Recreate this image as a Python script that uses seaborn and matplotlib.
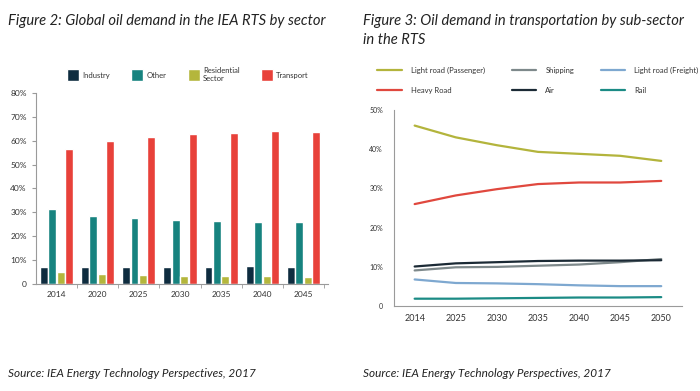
import numpy as np
import pandas as pd
import matplotlib
matplotlib.use("Agg")
import matplotlib.pyplot as plt
import seaborn as sns
from matplotlib.ticker import FuncFormatter, FixedLocator

# ---------------------
# Data
# ---------------------
bar_years = ["2014", "2020", "2025", "2030", "2035", "2040", "2045"]
sectors = ["Industry", "Other", "Residential\nSector", "Transport"]
industry = [7.0, 7.2, 7.0, 7.0, 7.0, 7.3, 7.2]
other = [31.5, 28.3, 27.7, 26.7, 26.3, 25.8, 26.1]
residential = [4.8, 4.3, 3.8, 3.5, 3.3, 3.2, 3.0]
transport = [56.6, 60.0, 61.5, 62.8, 63.3, 64.0, 63.7]

line_years = ["2014", "2025", "2030", "2035", "2040", "2045", "2050"]
subsectors = ["Light road (Passenger)", "Shipping", "Light road (Freight)",
              "Heavy Road", "Air", "Rail"]
light_passenger = [46.0, 43.0, 41.0, 39.3, 38.8, 38.3, 37.0]
shipping = [9.1, 9.9, 10.0, 10.3, 10.6, 11.2, 12.0]
light_freight = [6.8, 5.9, 5.8, 5.6, 5.3, 5.1, 5.1]
heavy_road = [26.0, 28.2, 29.8, 31.1, 31.5, 31.5, 31.9]
air = [10.1, 10.9, 11.2, 11.5, 11.6, 11.6, 11.7]
rail = [1.9, 1.9, 2.0, 2.1, 2.2, 2.2, 2.3]

sector_colors = ["#0e2c3f", "#17837f", "#b4b63c", "#e8413a"]
line_colors = {
    "Light road (Passenger)": "#b3b43c",
    "Shipping": "#7e898b",
    "Light road (Freight)": "#7ea8d0",
    "Heavy Road": "#e0483e",
    "Air": "#1b2a35",
    "Rail": "#1b8b85",
}

bars = pd.DataFrame({
    "year": bar_years * 4,
    "sector": np.repeat(sectors, len(bar_years)),
    "value": industry + other + residential + transport,
})
lines = pd.DataFrame({
    "year": line_years * 6,
    "sub": np.repeat(subsectors, len(line_years)),
    "value": light_passenger + shipping + light_freight + heavy_road + air + rail,
})

# ---------------------
# Style
# ---------------------
sns.set_style("white")
plt.rcParams["font.family"] = ["Lato", "DejaVu Sans"]
grey = "#9a9a9a"
txt = "#333333"

fig = plt.figure(figsize=(7, 3.91), dpi=100)

# ---------------------
# Figure 2: bars
# ---------------------
ax1 = fig.add_axes([0.051, 0.274, 0.418, 0.488])
sns.barplot(data=bars, x="year", y="value", hue="sector", palette=sector_colors,
            width=0.82, gap=0.06, saturation=1, ax=ax1, legend=True)
ax1.set_ylim(0, 80)
ax1.set_xlim(-0.5, 6.6)
ax1.set_yticks(range(0, 81, 10))
ax1.yaxis.set_major_formatter(FuncFormatter(lambda v, p: "0" if v == 0 else f"{v:.0f}%"))
ax1.set_xlabel("")
ax1.set_ylabel("")
ax1.xaxis.set_minor_locator(FixedLocator(np.arange(0.5, 6.6, 1)))
ax1.tick_params(axis="x", which="major", length=0, labelsize=6, colors=txt, pad=5)
ax1.tick_params(axis="x", which="minor", length=3, color=grey, direction="out", bottom=True)
ax1.tick_params(axis="y", length=3, color=grey, labelsize=6, colors=txt, left=True)
for s in ["top", "right"]:
    ax1.spines[s].set_visible(False)
for s in ["left", "bottom"]:
    ax1.spines[s].set_color(grey)
    ax1.spines[s].set_linewidth(0.8)
h, l = ax1.get_legend_handles_labels()
ax1.legend(h, l, loc="lower center", bbox_to_anchor=(0.52, 1.02), ncol=4, frameon=False,
           fontsize=5.5, handlelength=1.6, handleheight=2.0, columnspacing=2.8,
           handletextpad=0.4, labelcolor=txt)

fig.text(0.011, 0.965, "Figure 2: Global oil demand in the IEA RTS by sector",
         fontsize=10.6, style="italic", color="#222222", va="top")
fig.text(0.011, 0.045, "Source: IEA Energy Technology Perspectives, 2017",
         fontsize=8.5, style="italic", color="#222222", va="center")

# ---------------------
# Figure 3: lines
# ---------------------
ax2 = fig.add_axes([0.563, 0.217, 0.411, 0.502])
sns.lineplot(data=lines, x="year", y="value", hue="sub", palette=line_colors,
             linewidth=1.6, ax=ax2, sort=False)
ax2.set_ylim(0, 50)
ax2.set_xlim(-0.5, 6.5)
ax2.set_yticks(range(0, 51, 10))
ax2.yaxis.set_major_formatter(FuncFormatter(lambda v, p: "0" if v == 0 else f"{v:.0f}%"))
ax2.set_xlabel("")
ax2.set_ylabel("")
ax2.tick_params(axis="x", length=0, labelsize=6.5, colors=txt, pad=6)
ax2.tick_params(axis="y", length=0, labelsize=5, colors=txt, pad=8)
for s in ["top", "right"]:
    ax2.spines[s].set_visible(False)
for s in ["left", "bottom"]:
    ax2.spines[s].set_color(grey)
    ax2.spines[s].set_linewidth(0.8)
h, l = ax2.get_legend_handles_labels()
lookup = dict(zip(l, h))
order = ["Light road (Passenger)", "Heavy Road", "Shipping", "Air",
         "Light road (Freight)", "Rail"]
ax2.legend([lookup[k] for k in order], order, loc="lower center",
           bbox_to_anchor=(0.5, 1.045), ncol=3, frameon=False, fontsize=5.5,
           handlelength=3.2, columnspacing=3.5, handletextpad=1.2,
           labelspacing=1.7, labelcolor=txt)

fig.text(0.519, 0.965, "Figure 3: Oil demand in transportation by sub-sector\nin the RTS",
         fontsize=10.6, style="italic", color="#222222", va="top", linespacing=1.45)
fig.text(0.519, 0.045, "Source: IEA Energy Technology Perspectives, 2017",
         fontsize=8.5, style="italic", color="#222222", va="center")

fig.savefig("out.png", dpi=100)
